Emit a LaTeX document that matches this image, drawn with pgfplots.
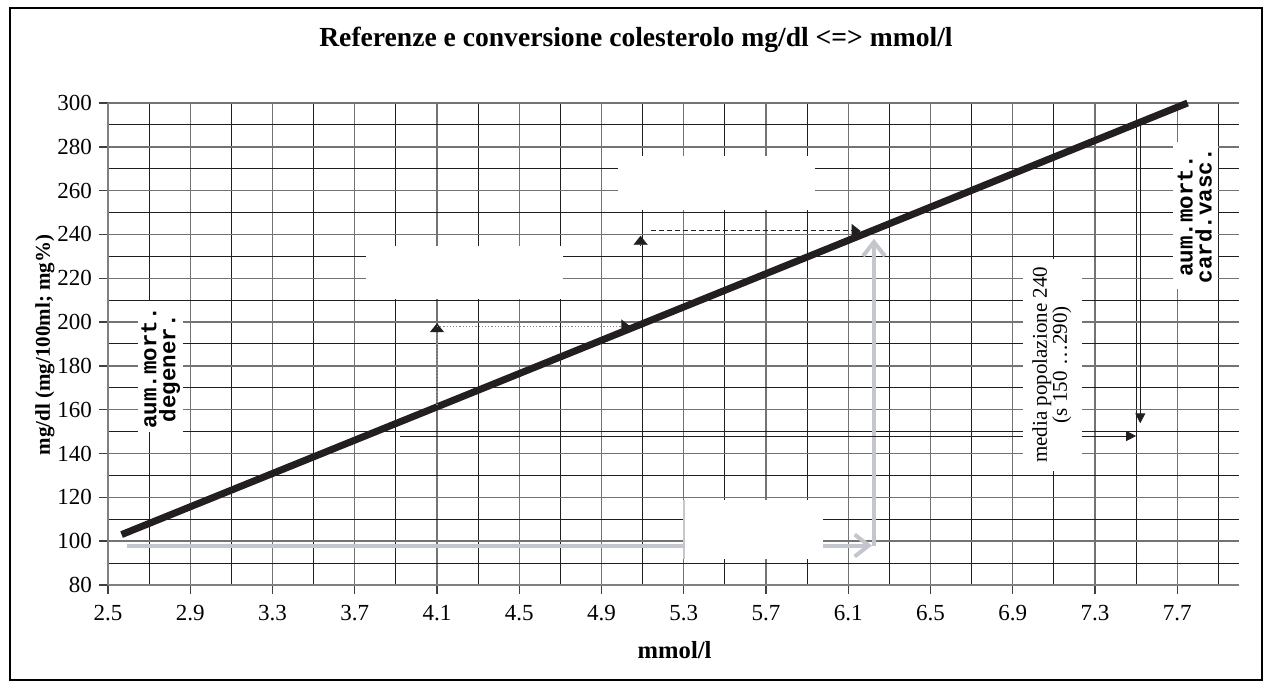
\documentclass[border=0pt]{standalone}
\usepackage{fontspec}
\setmainfont{Liberation Serif}
\setmonofont{Liberation Mono}
\usepackage{pgfplots}
\pgfplotsset{compat=1.18}
\usetikzlibrary{arrows.meta}
\definecolor{linecol}{HTML}{231F20}
\definecolor{arrgray}{HTML}{C3C6CC}
\begin{document}
\begin{tikzpicture}
\begin{axis}[
  scale only axis,
  width=565.5pt, height=241pt,
  xmin=2.5, xmax=8.0, ymin=80, ymax=300,
  xtick={2.5,2.9,3.3,3.7,4.1,4.5,4.9,5.3,5.7,6.1,6.5,6.9,7.3,7.7},
  xticklabels={2.5,2.9,3.3,3.7,4.1,4.5,4.9,5.3,5.7,6.1,6.5,6.9,7.3,7.7},
  minor xtick={2.7,3.1,3.5,3.9,4.3,4.7,5.1,5.5,5.9,6.3,6.7,7.1,7.5,7.9},
  ytick={80,100,...,300},
  minor ytick={90,110,...,290},
  grid=both,
  major grid style={draw=black!55, line width=0.7pt},
  minor grid style={draw=black!88, line width=0.5pt},
  axis x line*=bottom, axis y line*=left,
  axis line style={-, draw=black!50, line width=1pt},
  tick align=outside,
  major tick length=4.5pt,
  minor tick length=0pt,
  tick style={black!75, line width=0.7pt},
  /pgf/number format/assume math mode=true,
  ticklabel style={font=\fontsize{11.5}{13}\selectfont},
  xticklabel style={yshift=-2pt},
  clip=false,
]
% main conversion line
\addplot[draw=linecol, line width=3.5pt] coordinates {(2.566,103) (7.75,300)};
% gray L-shaped arrows
\addplot[draw=arrgray, line width=2pt, -{Straight Barb[length=7pt,width=11pt]}] coordinates {(2.59,98) (6.215,98)};
\addplot[draw=arrgray, line width=2pt, -{Straight Barb[length=7pt,width=11pt]}] coordinates {(6.225,98) (6.225,238)};
% dotted arrows (200)
\addplot[draw=black!45, densely dotted, line width=0.6pt, -{Triangle[width=7pt,length=4.5pt,color=linecol]}] coordinates {(4.1,162) (4.1,199.5)};
\addplot[draw=black!45, densely dotted, line width=0.6pt, -{Triangle[width=7pt,length=4.5pt,color=linecol]}] coordinates {(4.1,198) (5.04,198)};
% dashed arrows (240)
\addplot[draw=linecol, line width=0.1pt, -{Triangle[width=7pt,length=4.5pt]}] coordinates {(5.09,234.8) (5.09,239.4)};
\addplot[draw=linecol, dash pattern=on 2.5pt off 1.5pt, line width=0.5pt, -{Triangle[width=7pt,length=4.5pt]}] coordinates {(5.14,241.6) (6.16,241.6)};
% thin black arrows on the right
\addplot[draw=linecol, line width=0.5pt, -{Triangle[width=5pt,length=5pt]}] coordinates {(7.52,291) (7.52,153.8)};
\addplot[draw=linecol, line width=0.5pt, -{Triangle[width=5pt,length=5pt]}] coordinates {(3.92,148) (7.50,148)};
% blank white text boxes
\fill[white] (axis cs:3.757,210.4) rectangle (axis cs:4.713,234.6);
\fill[white] (axis cs:4.978,251) rectangle (axis cs:5.94,276);
\fill[white] (axis cs:5.3,92) rectangle (axis cs:5.976,119);
\draw[black!22, line width=0.8pt] (axis cs:5.3,92) -- (axis cs:5.3,119);
% labelled boxes
\fill[white] (axis cs:2.648,150) rectangle (axis cs:2.863,209.6);
\node[rotate=90, align=center, font=\ttfamily\bfseries\fontsize{11.25}{9.5}\selectfont] at (axis cs:2.757,179) {aum.mort.\\degener.};
\fill[white] (axis cs:7.679,215) rectangle (axis cs:7.897,282);
\node[rotate=90, align=center, font=\ttfamily\bfseries\fontsize{11.25}{9.5}\selectfont] at (axis cs:7.785,248.5) {aum.mort.\\card.vasc.};
\fill[white] (axis cs:6.949,132) rectangle (axis cs:7.237,229);
\node[rotate=90, align=center, font=\fontsize{10.5}{10}\selectfont] at (axis cs:7.09,180.5) {media popolazione 240\\(s 150 …290)};
% titles
\node[font=\bfseries\fontsize{13.8}{16}\selectfont] at (rel axis cs:0.4668,1.1307) {Referenze e conversione colesterolo mg/dl <=> mmol/l};
\node[font=\bfseries\fontsize{12.3}{14}\selectfont] at (rel axis cs:0.501,-0.1349) {mmol/l};
\node[rotate=90, font=\bfseries\fontsize{10.5}{12}\selectfont] at (rel axis cs:-0.0557,0.498) {mg/dl (mg/100ml; mg\%)};
% frame and bounding box
\draw[black, line width=0.6pt] (rel axis cs:-0.0866,-0.1971) rectangle (rel axis cs:1.0203,1.1971);
\path (rel axis cs:-0.0955,-0.2158) rectangle (rel axis cs:1.0292,1.2137);
\end{axis}
\end{tikzpicture}
\end{document}
